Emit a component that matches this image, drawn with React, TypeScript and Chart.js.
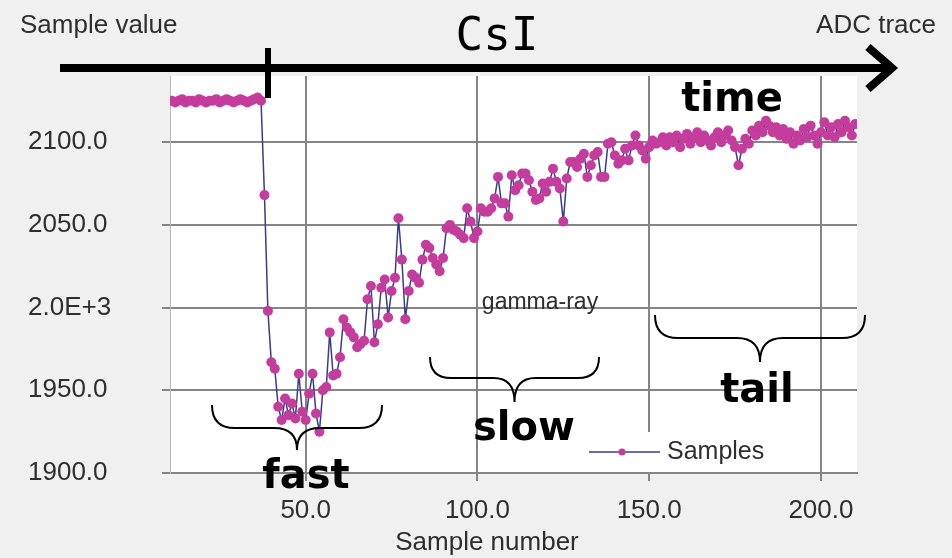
import React, { useEffect, useRef } from "react";
import { Chart, registerables } from "chart.js";

Chart.register(...registerables);

const firstSample = 11;
const baselineValues = [
  2125, 2124, 2125, 2126, 2124, 2125, 2125, 2124, 2126, 2125, 2124, 2125, 2125, 2126,
  2124, 2125, 2126, 2125, 2124, 2125, 2126, 2125, 2124, 2125, 2126, 2127, 2125,
];
const fastValues = [
  2068, 1998, 1967, 1963, 1940, 1932, 1945, 1935, 1942, 1933, 1960, 1937, 1932, 1948,
  1960, 1936, 1925, 1950, 1952, 1985, 1959, 1960, 1970, 1993, 1988, 1985, 1982, 1976,
  1978, 1980, 2005, 2013, 1979, 1990, 2012, 2017, 1994, 2010, 2018, 2054, 2029, 1993,
];
const slowValues = [
  2010, 2020, 2018, 2015, 2029, 2038, 2036, 2030, 2026, 2022, 2030, 2048, 2050, 2047,
  2046, 2044, 2042, 2060, 2052, 2042, 2046, 2060, 2058, 2058, 2060, 2066, 2079, 2063,
  2063, 2055, 2080, 2071, 2074, 2081, 2081, 2077, 2070, 2065, 2066, 2075, 2070, 2076,
  2084, 2076, 2072, 2052, 2078, 2088, 2088, 2085, 2090, 2093, 2079, 2086, 2092, 2094,
  2079, 2079, 2099, 2100, 2092, 2087, 2089, 2096, 2089, 2098, 2104, 2098, 2095, 2090,
  2097, 2101, 2099, 2100, 2103, 2098, 2103,
];
const tailValues = [
  2100, 2104, 2097, 2102, 2105, 2099, 2103, 2106, 2100, 2104, 2101, 2098, 2103, 2106,
  2100, 2104, 2107, 2101, 2097, 2086, 2096, 2102, 2099, 2107, 2104, 2110, 2106, 2113,
  2110, 2106, 2109, 2104, 2108, 2102, 2106, 2099, 2104, 2101, 2108, 2103, 2110, 2104,
  2099, 2106, 2112, 2104, 2109, 2103, 2111, 2106, 2113, 2109, 2104, 2111,
];
const sampleValues = [...baselineValues, ...fastValues, ...slowValues, ...tailValues];

const xTicks = [50, 100, 150, 200];
const yTicks = [1900, 1950, 2000, 2050, 2100];
const xRange = [10.5, 210.5];
const yRange = [1900, 2140];

const LINE = "#3b3b8e";
const MARK = "#c43c9c";
const TXT = "#2e2e2e";
const SANS = "'Liberation Sans', Arial, sans-serif";

function brace(ctx: CanvasRenderingContext2D, x1: number, x2: number, yTop: number, yMid: number, yTip: number) {
  const xc = (x1 + x2) / 2;
  const r = yMid - yTop;
  ctx.beginPath();
  ctx.moveTo(x1, yTop);
  ctx.quadraticCurveTo(x1, yMid, x1 + r, yMid);
  ctx.lineTo(xc - r, yMid);
  ctx.quadraticCurveTo(xc, yMid, xc, yTip);
  ctx.quadraticCurveTo(xc, yMid, xc + r, yMid);
  ctx.lineTo(x2 - r, yMid);
  ctx.quadraticCurveTo(x2, yMid, x2, yTop);
  ctx.stroke();
}

const decor = {
  id: "decor",
  beforeDraw(chart: any) {
    const { ctx, chartArea: a, width, height } = chart;
    ctx.save();
    ctx.fillStyle = "#f0f0f0";
    ctx.fillRect(0, 0, width, height);
    ctx.fillStyle = "#ffffff";
    ctx.fillRect(a.left, a.top, a.right - a.left, a.bottom - a.top);
    ctx.restore();
  },
  afterDatasetsDraw(chart: any) {
    const { ctx } = chart;
    ctx.save();
    // legend
    ctx.fillStyle = "#ffffff";
    ctx.fillRect(585, 432, 183, 40);
    ctx.strokeStyle = LINE;
    ctx.lineWidth = 1.5;
    ctx.beginPath();
    ctx.moveTo(589, 452);
    ctx.lineTo(660, 452);
    ctx.stroke();
    ctx.fillStyle = MARK;
    ctx.beginPath();
    ctx.arc(622, 452, 3.5, 0, Math.PI * 2);
    ctx.fill();
    ctx.fillStyle = TXT;
    ctx.font = `25px ${SANS}`;
    ctx.textBaseline = "middle";
    ctx.textAlign = "left";
    ctx.fillText("Samples", 667, 452);

    // gamma-ray
    ctx.font = `23px ${SANS}`;
    ctx.textAlign = "center";
    ctx.fillText("gamma-ray", 540, 303);

    // top texts
    ctx.font = `26px ${SANS}`;
    ctx.textAlign = "left";
    ctx.fillText("Sample value", 20, 26);
    ctx.textAlign = "right";
    ctx.fillText("ADC trace", 936, 26);

    // x axis title
    ctx.textAlign = "center";
    ctx.fillText("Sample number", 487, 543);

    // CsI
    ctx.fillStyle = "#000";
    ctx.textAlign = "center";
    ctx.textBaseline = "alphabetic";
    ctx.font = "46px 'DejaVu Sans Mono', monospace";
    ctx.fillText("CsI", 497, 50);

    // arrow
    ctx.strokeStyle = "#000";
    ctx.lineWidth = 8;
    ctx.lineCap = "butt";
    ctx.beginPath();
    ctx.moveTo(60, 68);
    ctx.lineTo(890, 68);
    ctx.stroke();
    ctx.lineJoin = "miter";
    ctx.beginPath();
    ctx.moveTo(868, 47);
    ctx.lineTo(892, 68);
    ctx.lineTo(868, 89);
    ctx.stroke();
    ctx.lineWidth = 6;
    ctx.beginPath();
    ctx.moveTo(268, 48);
    ctx.lineTo(268, 98);
    ctx.stroke();

    // braces
    ctx.lineWidth = 2;
    brace(ctx, 212, 382, 405, 428, 450);
    brace(ctx, 430, 599, 357, 378, 402);
    brace(ctx, 655, 865, 315, 338, 362);

    // bold labels
    ctx.font = `bold 40px 'DejaVu Sans', sans-serif`;
    ctx.textAlign = "center";
    ctx.fillText("time", 732, 111);
    ctx.fillText("fast", 306, 488);
    ctx.fillText("slow", 524, 440);
    ctx.fillText("tail", 757, 402);
    ctx.restore();
  },
};

export default function App() {
  const ref = useRef<HTMLCanvasElement>(null);
  useEffect(() => {
    if (!ref.current) return;
    const chart = new Chart(ref.current, {
      type: "line",
      data: {
        datasets: [
          {
            label: "Samples",
            data: sampleValues.map((v, i) => ({ x: firstSample + i, y: v })),
            borderColor: LINE,
            borderWidth: 1.5,
            pointRadius: 5,
            pointBackgroundColor: MARK,
            pointBorderColor: MARK,
            pointBorderWidth: 0,
            tension: 0,
          },
        ],
      },
      options: {
        responsive: false,
        animation: false,
        layout: { padding: { left: 28, right: 95, top: 76, bottom: 0 } },
        plugins: { legend: { display: false }, tooltip: { enabled: false } },
        scales: {
          x: {
            type: "linear",
            min: xRange[0],
            max: xRange[1],
            afterBuildTicks: (s: any) => {
              s.ticks = xTicks.map((v) => ({ value: v }));
            },
            afterFit: (s: any) => {
              s.height = 85;
            },
            ticks: {
              font: { family: SANS, size: 26 },
              color: TXT,
              padding: 14,
              maxRotation: 0,
              callback: (v: any) => Number(v).toFixed(1),
            },
            grid: { color: "#858585", lineWidth: 2, tickLength: 8 },
            border: { color: "#858585", width: 2 },
            title: { display: false },
          },
          y: {
            type: "linear",
            min: yRange[0],
            max: yRange[1],
            afterBuildTicks: (s: any) => {
              s.ticks = yTicks.map((v) => ({ value: v }));
            },
            afterFit: (s: any) => {
              s.width = 142;
            },
            ticks: {
              font: { family: SANS, size: 26 },
              color: TXT,
              crossAlign: "far",
              callback: (v: any) => (Number(v) === 2000 ? "2.0E+3" : Number(v).toFixed(1)),
            },
            grid: { color: "#858585", lineWidth: 2, tickLength: 8 },
            border: { color: "#bbbbbb", width: 1 },
          },
        },
      } as any,
      plugins: [decor],
    });
    return () => chart.destroy();
  }, []);
  return (
    <div style={{ position: "fixed", left: 0, top: 0, width: 952, height: 558 }}>
      <canvas ref={ref} width={952} height={558} />
    </div>
  );
}
